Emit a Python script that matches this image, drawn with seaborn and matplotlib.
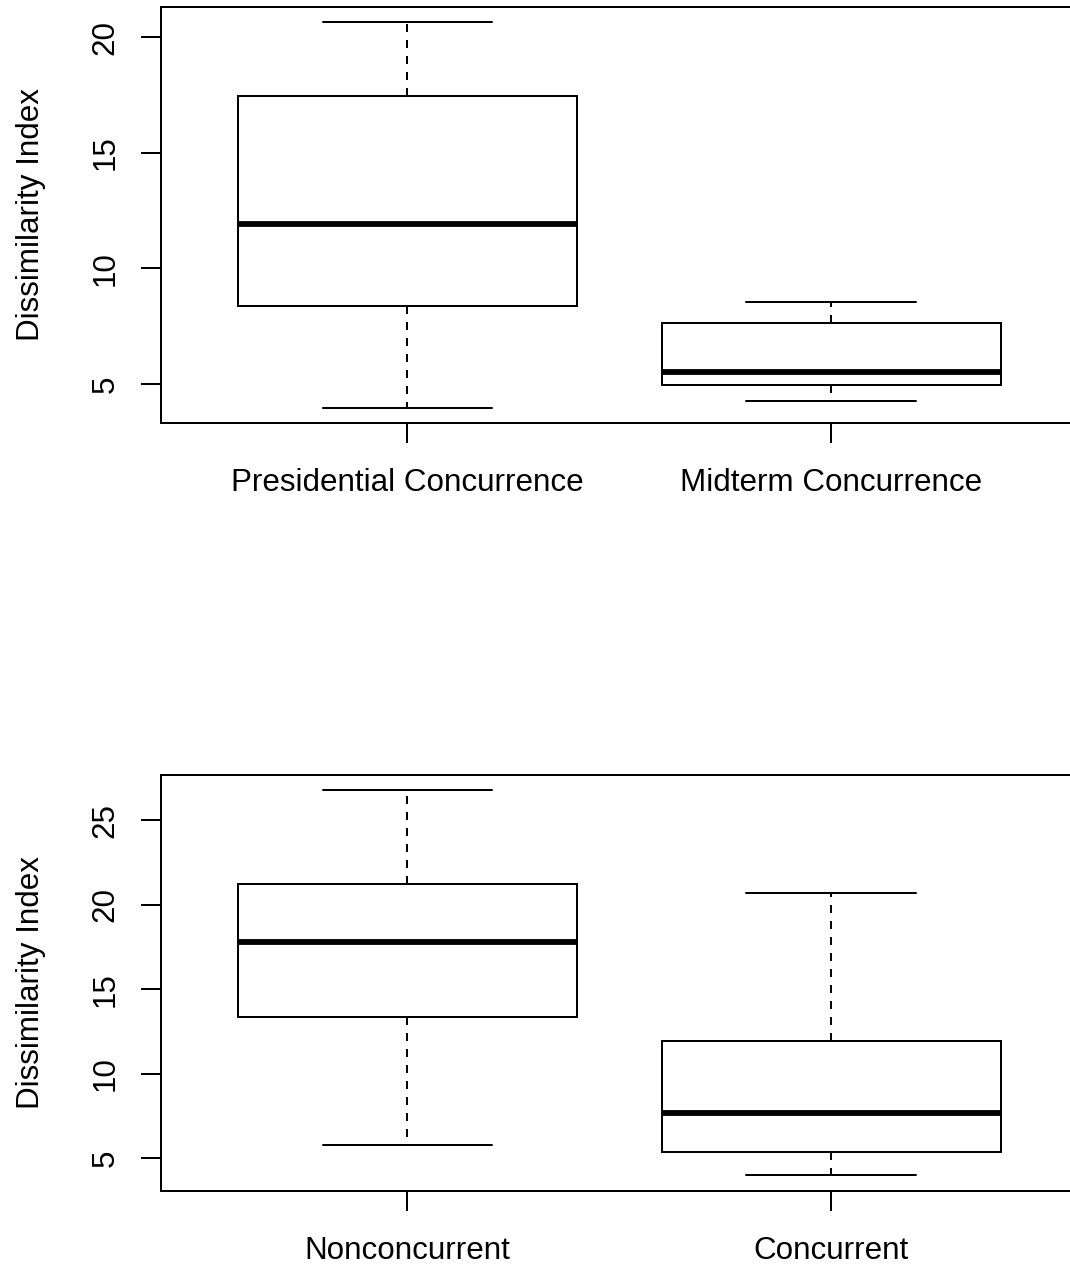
import matplotlib
matplotlib.use("Agg")
import matplotlib.pyplot as plt
import seaborn as sns
import pandas as pd

# five-number summaries (min, Q1, median, Q3, max)
top_groups = ["Presidential Concurrence", "Midterm Concurrence"]
presidential = [3.97, 8.35, 11.92, 17.45, 20.66]
midterm = [4.26, 4.93, 5.53, 7.63, 8.56]

bottom_groups = ["Nonconcurrent", "Concurrent"]
nonconcurrent = [5.81, 13.38, 17.83, 21.23, 26.78]
concurrent = [3.99, 5.34, 7.65, 11.94, 20.69]

y_label = "Dissimilarity Index"

sns.set_theme(style="ticks")
plt.rcParams["font.family"] = ["Liberation Sans", "DejaVu Sans"]
plt.rcParams["axes.linewidth"] = 1.44
plt.rcParams["axes.edgecolor"] = "black"
plt.rcParams["text.color"] = "black"
plt.rcParams["axes.labelcolor"] = "black"
plt.rcParams["xtick.labelcolor"] = "black"
plt.rcParams["ytick.labelcolor"] = "black"

LW = 1.44
FS = 22.6


def r_boxplot(ax, groups, values):
    df = pd.DataFrame({
        "group": [g for g, v in zip(groups, values) for _ in v],
        "value": [x for v in values for x in v],
    })
    sns.boxplot(
        data=df, x="group", y="value", ax=ax, order=groups,
        width=0.8, whis=(0, 100), color="white", linecolor="black",
        linewidth=LW, fliersize=0,
        medianprops={"linewidth": 4.2, "color": "black", "solid_capstyle": "butt"},
        whiskerprops={"linestyle": (0, (4, 4)), "linewidth": LW},
        capprops={"linewidth": LW},
        boxprops={"linewidth": LW},
    )
    # R-style axis limits: data range padded by 4 %
    lo = min(min(v) for v in values)
    hi = max(max(v) for v in values)
    pad = 0.04 * (hi - lo)
    ax.set_ylim(lo - pad, hi + pad)
    ax.set_xlim(-0.58, 1.58)
    for side in ["top", "right", "left", "bottom"]:
        ax.spines[side].set_visible(True)
        ax.spines[side].set_linewidth(LW)
    ax.set_xlabel("")
    ax.set_ylabel(y_label, fontsize=FS, color="black")
    ax.yaxis.set_label_coords(-0.126, 0.5)
    ax.tick_params(axis="both", length=14.4, width=LW, labelsize=FS,
                   color="black", labelcolor="black")
    ax.tick_params(axis="x", pad=18)
    ax.tick_params(axis="y", pad=15)


fig = plt.figure(figsize=(10.70, 12.68), dpi=100)
ax1 = fig.add_axes([0.1509, 0.6664, 0.8556, 0.3283])
ax2 = fig.add_axes([0.1509, 0.0610, 0.8556, 0.3278])

r_boxplot(ax1, top_groups, [presidential, midterm])
ax1.set_yticks([5, 10, 15, 20])
r_boxplot(ax2, bottom_groups, [nonconcurrent, concurrent])
ax2.set_yticks([5, 10, 15, 20, 25])
for ax in (ax1, ax2):
    for lab in ax.get_yticklabels():
        lab.set_rotation(90)
        lab.set_va("center")

fig.savefig("out.png", dpi=100, facecolor="white")
